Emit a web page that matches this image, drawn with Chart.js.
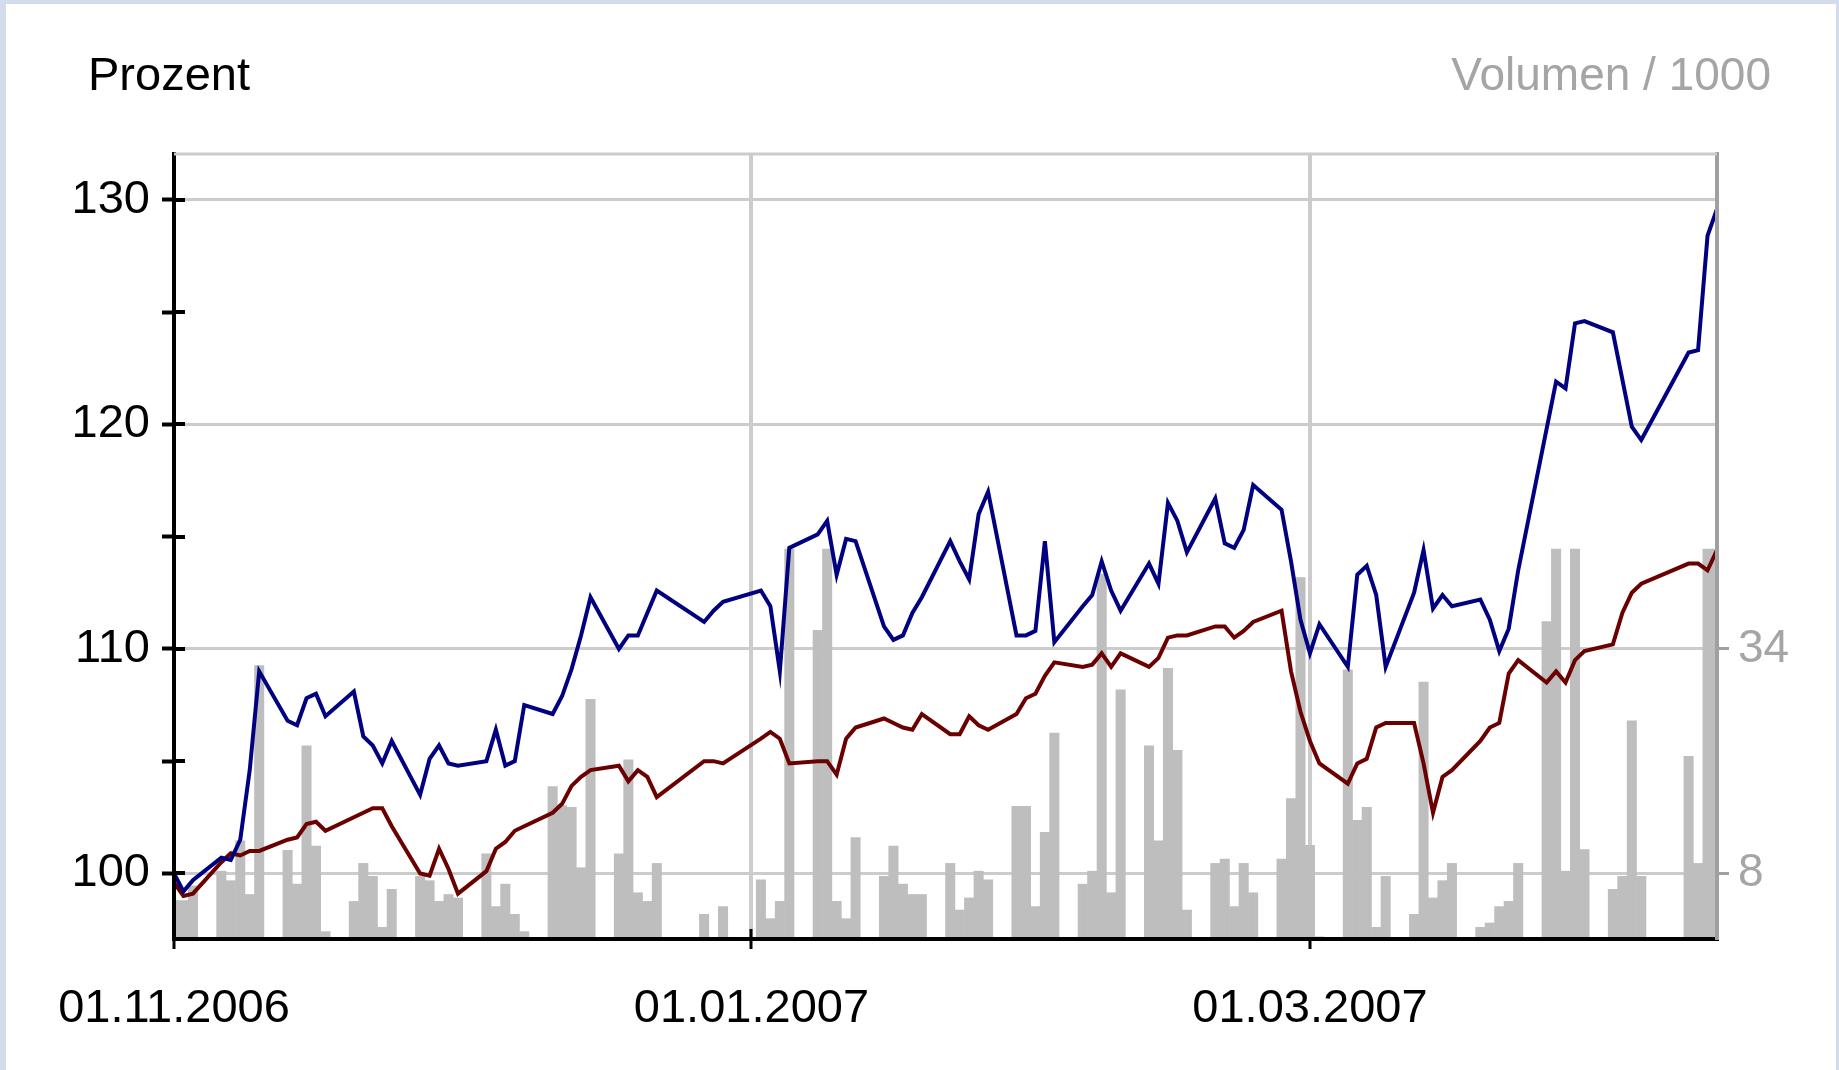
<!DOCTYPE html>
<html>
<head>
<meta charset="utf-8">
<title>Prozent / Volumen</title>
<script src="https://cdn.jsdelivr.net/npm/chart.js@4.4.1/dist/chart.umd.min.js"></script>
<style>
  html, body { margin: 0; padding: 0; background: #d3dcea; overflow: hidden; }
  #frame { position: absolute; left: 6px; top: 4px; width: 1830px; height: 1066px; background: #fff; }
</style>
</head>
<body>
<div id="frame"><canvas id="chart"></canvas></div>
<script>
// trading days (Xetra calendar, holidays left out)
const dates = [
  '2006-11-01','2006-11-02','2006-11-03','2006-11-06','2006-11-07','2006-11-08','2006-11-09','2006-11-10',
  '2006-11-13','2006-11-14','2006-11-15','2006-11-16','2006-11-17','2006-11-20','2006-11-21','2006-11-22',
  '2006-11-23','2006-11-24','2006-11-27','2006-11-28','2006-11-29','2006-11-30',
  '2006-12-01','2006-12-04','2006-12-05','2006-12-06','2006-12-07','2006-12-08','2006-12-11','2006-12-12',
  '2006-12-13','2006-12-14','2006-12-15','2006-12-18','2006-12-19','2006-12-20','2006-12-21','2006-12-22',
  '2006-12-27','2006-12-28','2006-12-29',
  '2007-01-02','2007-01-03','2007-01-04','2007-01-05','2007-01-08','2007-01-09','2007-01-10','2007-01-11',
  '2007-01-12','2007-01-15','2007-01-16','2007-01-17','2007-01-18','2007-01-19','2007-01-22','2007-01-23',
  '2007-01-24','2007-01-25','2007-01-26','2007-01-29','2007-01-30','2007-01-31',
  '2007-02-01','2007-02-02','2007-02-05','2007-02-06','2007-02-07','2007-02-08','2007-02-09','2007-02-12',
  '2007-02-13','2007-02-14','2007-02-15','2007-02-16','2007-02-19','2007-02-20','2007-02-21','2007-02-22',
  '2007-02-23','2007-02-26','2007-02-27','2007-02-28',
  '2007-03-01','2007-03-02','2007-03-05','2007-03-06','2007-03-07','2007-03-08','2007-03-09','2007-03-12',
  '2007-03-13','2007-03-14','2007-03-15','2007-03-16','2007-03-19','2007-03-20','2007-03-21','2007-03-22',
  '2007-03-23','2007-03-26','2007-03-27','2007-03-28','2007-03-29','2007-03-30',
  '2007-04-02','2007-04-03','2007-04-04','2007-04-05','2007-04-10','2007-04-11','2007-04-12','2007-04-13'
];

// stock in percent (blue)
const stockPct = [
  100.0, 99.2, 99.7, 100.7, 100.6, 101.5, 104.6, 109.0, 106.8, 106.6, 107.8, 108.0, 107.0, 108.1, 106.1, 105.7,
  104.9, 105.9, 103.5, 105.1, 105.7, 104.9,
  104.8, 105.0, 106.4, 104.8, 105.0, 107.5, 107.1, 107.9, 109.1, 110.6, 112.3, 110.0, 110.6, 110.6, 111.6, 112.6,
  111.2, 111.7, 112.1,
  112.6, 111.9, 109.0, 114.5, 115.1, 115.7, 113.3, 114.9, 114.8, 111.0, 110.4, 110.6, 111.6, 112.3, 114.8, 113.9,
  113.1, 116.0, 117.0, 110.6, 110.6, 110.8,
  114.8, 110.3, 111.9, 112.4, 113.9, 112.6, 111.7, 113.8, 112.9, 116.5, 115.7, 114.3, 116.7, 114.7, 114.5, 115.3,
  117.3, 116.2, 113.9, 111.3,
  109.8, 111.1, 109.2, 113.3, 113.7, 112.4, 109.2, 112.5, 114.4, 111.8, 112.4, 111.9, 112.2, 111.3, 109.9, 110.9,
  113.5, 119.8, 121.9, 121.6, 124.5, 124.6,
  124.1, 122.0, 119.9, 119.3, 123.2, 123.3, 128.4, 129.6
];

// benchmark index in percent (dark red)
const indexPct = [
  99.6, 99.0, 99.1, 100.5, 100.9, 100.8, 101.0, 101.0, 101.5, 101.6, 102.2, 102.3, 101.9, 102.5, 102.7, 102.9,
  102.9, 102.1, 100.0, 99.9, 101.1, 100.2,
  99.1, 100.1, 101.1, 101.4, 101.9, 102.1, 102.7, 103.1, 103.9, 104.3, 104.6, 104.8, 104.1, 104.6, 104.3, 103.4,
  105.0, 105.0, 104.9,
  106.0, 106.3, 106.0, 104.9, 105.0, 105.0, 104.4, 106.0, 106.5, 106.9, 106.7, 106.5, 106.4, 107.1, 106.2, 106.2,
  107.0, 106.6, 106.4, 107.1, 107.8, 108.0,
  108.8, 109.4, 109.2, 109.3, 109.8, 109.2, 109.8, 109.2, 109.6, 110.5, 110.6, 110.6, 111.0, 111.0, 110.5, 110.8,
  111.2, 111.7, 109.0, 107.2,
  105.9, 104.9, 104.0, 104.9, 105.1, 106.5, 106.7, 106.7, 104.9, 102.7, 104.3, 104.6, 105.9, 106.5, 106.7, 108.9,
  109.5, 108.5, 109.0, 108.5, 109.5, 109.9,
  110.2, 111.6, 112.5, 112.9, 113.8, 113.8, 113.5, 114.4
];

// volume / 1000 (grey bars)
const volume = [
  4.9, 4.9, 6.6, 8.3, 7.2, 11.8, 5.6, 32.1, 10.7, 6.8, 22.8, 11.2, 1.3, 4.8, 9.2, 7.7,
  1.8, 6.2, 7.7, 7.2, 4.8, 5.6,
  5.2, 10.3, 4.2, 6.8, 3.3, 1.3, 18.1, 15.9, 15.7, 8.7, 28.2, 10.3, 21.2, 5.8, 4.8, 9.2,
  3.3, 0, 4.2,
  7.3, 2.8, 4.8, 45.6, 36.2, 45.6, 4.8, 2.8, 12.2, 7.7, 11.2, 6.8, 5.6, 5.6, 9.2, 3.8,
  5.2, 8.3, 7.3, 15.8, 15.8, 4.2,
  12.8, 24.3, 6.8, 8.3, 42.7, 5.8, 29.3, 22.8, 11.8, 31.8, 22.3, 3.8, 9.2, 9.7, 4.2, 9.2,
  5.8, 9.7, 16.7, 42.3,
  11.3, 0.7, 31.6, 14.2, 15.7, 1.8, 7.7, 3.3, 30.2, 5.2, 7.2, 9.2, 1.8, 2.3, 4.2, 4.8,
  9.2, 37.2, 45.6, 8.3, 45.6, 10.8,
  6.2, 7.7, 25.7, 7.7, 21.6, 9.2, 45.6, 45.6
];

const dateTicks = ['01.11.2006', '01.01.2007', '01.03.2007'];
const pctMarks = [100, 105, 110, 115, 120, 125, 130];
const pctLabels = [100, 110, 120, 130];
const volTicks = [8, 34];

// visible range of the percent axis; volume axis is tied to it (8 ~ 100 %, 34 ~ 110 %)
const pctMin = 97.08, pctMax = 132.04;
const volPerPct = (34 - 8) / 10;
const volMin = 8 + (pctMin - 100) * volPerPct;
const volMax = 8 + (pctMax - 100) * volPerPct;

function dayNo(s) {
  const p = s.includes('.') ? s.split('.').reverse() : s.split('-');
  return Date.UTC(+p[0], +p[1] - 1, +p[2]) / 864e5;
}
const day0 = dayNo(dates[0]);
const xs = dates.map(d => dayNo(d) - day0);

const FONT = '"Liberation Sans", Arial, sans-serif';
Chart.defaults.font.family = FONT;
Chart.defaults.font.size = 47;
Chart.defaults.color = '#000';

const frameMarks = {
  id: 'frameMarks',
  afterDraw(chart) {
    const { ctx, chartArea: a, scales } = chart;
    ctx.save();
    // top frame line
    ctx.strokeStyle = '#cccccc';
    ctx.lineWidth = 3;
    ctx.beginPath();
    ctx.moveTo(a.left, a.top);
    ctx.lineTo(a.right, a.top);
    ctx.stroke();
    // tick marks crossing the percent axis
    ctx.strokeStyle = '#000';
    ctx.lineWidth = 4;
    scales.y.ticks.forEach(t => {
      const py = Math.round(scales.y.getPixelForValue(t.value));
      ctx.beginPath();
      ctx.moveTo(a.left, py);
      ctx.lineTo(a.left + 11, py);
      ctx.stroke();
    });
    // year start mark above the time axis
    ctx.lineWidth = 3;
    dateTicks.forEach(t => {
      if (!t.startsWith('01.01')) return;
      const px = Math.round(scales.x.getPixelForValue(dayNo(t) - day0));
      ctx.beginPath();
      ctx.moveTo(px, a.bottom - 10);
      ctx.lineTo(px, a.bottom);
      ctx.stroke();
    });
    // axis titles
    ctx.font = '47px ' + FONT;
    ctx.textBaseline = 'alphabetic';
    ctx.fillStyle = '#000';
    ctx.textAlign = 'left';
    ctx.fillText('Prozent', 82, 86);
    ctx.font = '46px ' + FONT;
    ctx.fillStyle = '#a5a5a5';
    ctx.textAlign = 'right';
    ctx.fillText('Volumen / 1000', 1765, 86);
    ctx.restore();
  }
};

new Chart(document.getElementById('chart'), {
  type: 'bar',
  data: {
    datasets: [
      {
        type: 'line',
        label: 'Aktie',
        data: xs.map((x, i) => ({ x, y: stockPct[i] })),
        yAxisID: 'y',
        borderColor: '#000080',
        borderWidth: 4,
        pointRadius: 0,
        tension: 0,
        order: 0
      },
      {
        type: 'line',
        label: 'Index',
        data: xs.map((x, i) => ({ x, y: indexPct[i] })),
        yAxisID: 'y',
        borderColor: '#6b0000',
        borderWidth: 4,
        pointRadius: 0,
        tension: 0,
        order: 1
      },
      {
        type: 'bar',
        label: 'Volumen',
        data: xs.map((x, i) => ({ x, y: volume[i] })),
        yAxisID: 'vol',
        backgroundColor: '#bebebe',
        borderWidth: 0,
        barPercentage: 1.06,
        categoryPercentage: 1,
        clip: 0,
        order: 2
      }
    ]
  },
  options: {
    responsive: true,
    maintainAspectRatio: false,
    devicePixelRatio: 1,
    animation: false,
    layout: { padding: { top: 150, left: 0, right: 0, bottom: 0 } },
    plugins: {
      legend: { display: false },
      tooltip: { enabled: false }
    },
    scales: {
      x: {
        type: 'linear',
        min: 0,
        max: xs[xs.length - 1],
        offset: false,
        afterBuildTicks: s => { s.ticks = dateTicks.map(t => ({ value: dayNo(t) - day0 })); },
        afterFit: s => { s.height = 131; },
        ticks: {
          callback: (v, i) => dateTicks[i],
          autoSkip: false,
          maxRotation: 0,
          padding: 32
        },
        grid: {
          offset: false,
          color: c => (c.tick && c.tick.value === 0 ? 'rgba(0,0,0,0)' : '#cccccc'),
          lineWidth: 4,
          tickColor: '#000',
          tickLength: 10,
          tickWidth: 3
        },
        border: { color: '#000', width: 4, z: 1 }
      },
      y: {
        type: 'linear',
        position: 'left',
        min: pctMin,
        max: pctMax,
        afterBuildTicks: s => { s.ticks = pctMarks.map(v => ({ value: v })); },
        afterFit: s => { s.width = 168; },
        ticks: {
          callback: v => (pctLabels.includes(v) ? String(v) : ''),
          padding: 12
        },
        grid: {
          color: c => (c.tick && c.tick.value % 10 === 0 ? '#cccccc' : 'rgba(0,0,0,0)'),
          lineWidth: 3,
          tickColor: '#000',
          tickLength: 12,
          tickWidth: 4
        },
        border: { color: '#000', width: 4, z: 1 }
      },
      vol: {
        type: 'linear',
        position: 'right',
        min: volMin,
        max: volMax,
        afterBuildTicks: s => { s.ticks = volTicks.map(v => ({ value: v })); },
        afterFit: s => { s.width = 119; },
        ticks: { color: '#a5a5a5', padding: 9, font: { size: 46 } },
        grid: {
          drawOnChartArea: false,
          tickColor: '#a0a0a0',
          tickLength: 12,
          tickWidth: 3
        },
        border: { color: '#a0a0a0', width: 4, z: 1 }
      }
    }
  },
  plugins: [frameMarks]
});
</script>
</body>
</html>
